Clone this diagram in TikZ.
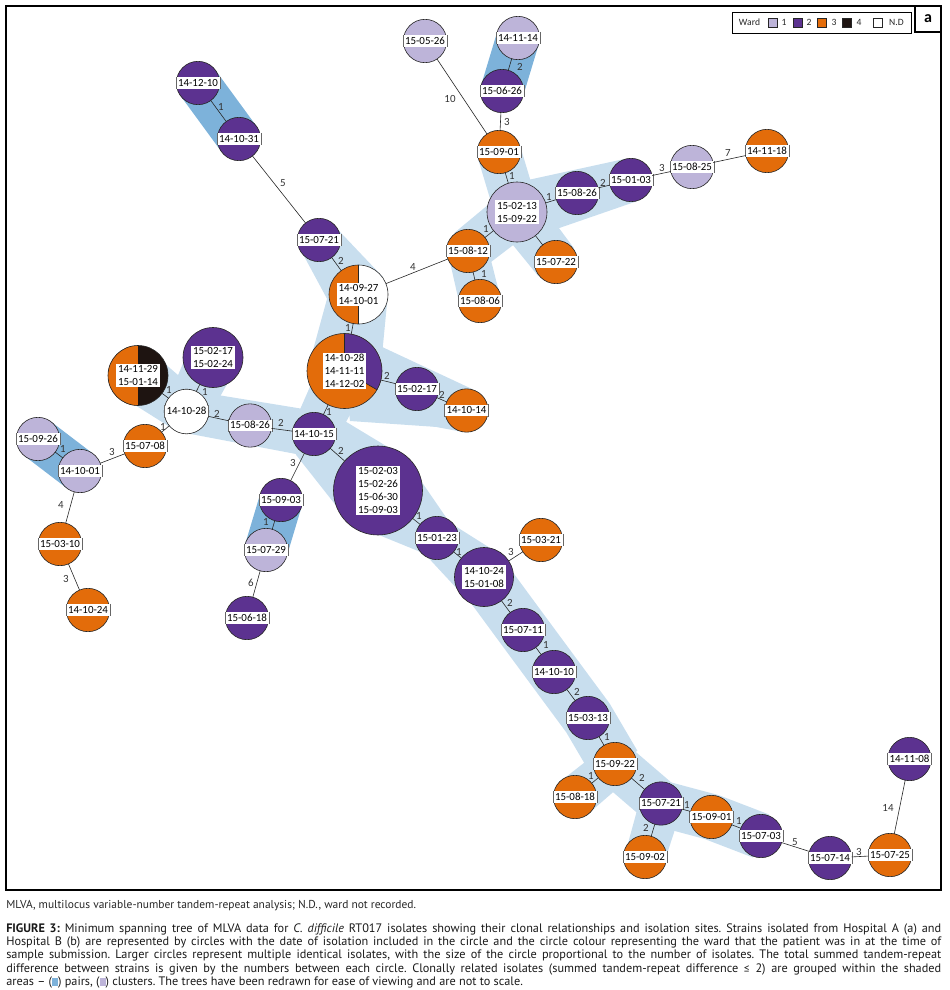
\documentclass[tikz,border=0pt]{standalone}
\usepackage{fontspec}
\setmainfont{Carlito}
\newfontfamily\capfont{PT Sans}
\newfontfamily\lefont{Carlito}
\usetikzlibrary{calc}
\definecolor{purp}{HTML}{5C3290}
\definecolor{orng}{HTML}{E36C0A}
\definecolor{lil}{HTML}{BDB4D9}
\definecolor{clusb}{HTML}{C8DEEE}
\definecolor{pairb}{HTML}{7DB2DA}
\definecolor{blk}{HTML}{1E1411}
\newcommand\tpr[4]{\fill[clus] ($(#1)!#3!90:(#2)$) -- ($(#1)!#3!-90:(#2)$) -- ($(#2)!#4!90:(#1)$) -- ($(#2)!#4!-90:(#1)$) -- cycle;}
\tikzset{
  clus/.style={fill=clusb},
  clusline/.style={draw=clusb, line cap=butt, line join=round},
  pairband/.style={draw=pairb, line width=32.5pt, line cap=butt},
  nd/.style={circle, draw=black!85, line width=0.45pt, minimum size=#1, inner sep=0pt, outer sep=0pt},
  nd/.default=32.5pt,
  sidel/.style={draw=black!60, line width=0.35pt},
  lab/.style={fill=white, inner xsep=1.3pt, inner ysep=0.7pt, text height=6pt, text depth=1.3pt,
    font=\fontsize{8.2}{9.75}\selectfont,
    append after command={(\tikzlastnode.north west) edge[sidel] (\tikzlastnode.south west)
      (\tikzlastnode.north east) edge[sidel] (\tikzlastnode.south east)}},
  labm/.style={fill=white, inner xsep=1.3pt, inner ysep=1.2pt, align=center, font=\fontsize{8.2}{9.75}\selectfont},
  edge/.style={draw=black!85, line width=0.45pt},
  elab/.style={font=\fontsize{8.2}{9}\selectfont, text=black!80, inner sep=0.5pt},
  sw/.style={draw=black!85, line width=0.4pt, minimum size=6.75pt, inner sep=0pt},
  legt/.style={font=\fontsize{7.2}{8}\selectfont, inner sep=0pt, text=black!85},
}
\begin{document}
\begin{tikzpicture}[x=0.75pt, y=-0.75pt]
\useasboundingbox (0,0) rectangle (950,990);
% coordinates
\coordinate (c01) at (198,83);
\coordinate (c02) at (239,139);
\coordinate (c03) at (425,41);
\coordinate (c04) at (518,38);
\coordinate (c05) at (502,91);
\coordinate (c06) at (499,152);
\coordinate (c07) at (517,212);
\coordinate (c08) at (577,193);
\coordinate (c09) at (631,180);
\coordinate (c10) at (692,167);
\coordinate (c11) at (767,151);
\coordinate (c12) at (468,251);
\coordinate (c13) at (556,262);
\coordinate (c14) at (480,301);
\coordinate (c15) at (319,240);
\coordinate (c16) at (358.5,294.5);
\coordinate (c17) at (344.5,371);
\coordinate (c18) at (417,389);
\coordinate (c19) at (466.5,410.5);
\coordinate (c20) at (138,375.5);
\coordinate (c21) at (213,357.5);
\coordinate (c22) at (186.5,411.5);
\coordinate (c23) at (250,425.5);
\coordinate (c24) at (314,434);
\coordinate (c25) at (145,446);
\coordinate (c26) at (38,439);
\coordinate (c27) at (80,471);
\coordinate (c28) at (60,544);
\coordinate (c29) at (88,610);
\coordinate (c30) at (281,500);
\coordinate (c31) at (266,550);
\coordinate (c32) at (247,618);
\coordinate (c33) at (378,490.5);
\coordinate (c34) at (437,538);
\coordinate (c35) at (541,540);
\coordinate (c36) at (484,577);
\coordinate (c37) at (523,630);
\coordinate (c38) at (554,672);
\coordinate (c39) at (588,718);
\coordinate (c40) at (615,764);
\coordinate (c41) at (575,797);
\coordinate (c42) at (661,803.5);
\coordinate (c43) at (645,857);
\coordinate (c44) at (711.5,817);
\coordinate (c45) at (761,836);
\coordinate (c46) at (830,858);
\coordinate (c47) at (890,855);
\coordinate (c48) at (909.5,759);
% frame
\draw[line width=1pt] (6,6) rectangle (941,890);
\draw[line width=0.8pt] (915,6) -- (915,32) -- (941,32);
\node[font=\bfseries\fontsize{12}{13}\selectfont, inner sep=0pt] (alab) at (928,18.5) {a};
% legend
\draw[line width=0.7pt] (732,12) rectangle (911,33);
\node[legt] (lw) at (749.5,22.5) {Ward};
\node[sw, fill=lil] (s1) at (772.5,23) {};
\node[legt] (t1) at (784,22.5) {1};
\node[sw, fill=purp] (s2) at (797.5,23) {};
\node[legt] (t2) at (809,22.5) {2};
\node[sw, fill=orng] (s3) at (821.5,23) {};
\node[legt] (t3) at (834,22.5) {3};
\node[sw, fill=blk] (s4) at (846.5,23) {};
\node[legt] (t4) at (859,22.5) {4};
\node[sw, fill=white] (s5) at (878,23) {};
\node[legt] (t5) at (896.5,22.5) {N.D};
% cluster shading
\tpr{c07}{c06}{16.5pt}{16.5pt}
\tpr{c07}{c09}{21.75pt}{16.5pt}
\tpr{c07}{c13}{18pt}{17pt}
\tpr{c07}{c12}{18pt}{17pt}
\tpr{c12}{c14}{15pt}{15.5pt}
\tpr{c15}{c16}{15.75pt}{22.5pt}
\tpr{c16}{c17}{22pt}{27pt}
\tpr{c17}{c19}{28.5pt}{16.5pt}
\fill[clus] (c17) -- (350,421) -- (452,428) -- (c19) -- cycle;
\tpr{c17}{c24}{19pt}{17pt}
\tpr{c24}{c22}{17.25pt}{16pt}
\tpr{c22}{c20}{16.5pt}{20pt}
\tpr{c22}{c21}{16.5pt}{19pt}
\tpr{c24}{c33}{20.6pt}{32.25pt}
\tpr{c33}{c34}{32pt}{15pt}
\tpr{c34}{c36}{15pt}{21pt}
\draw[clusline, line width=39pt] (c36) -- (c37) -- (c38) -- (c39) -- (c40);
\tpr{c40}{c41}{15pt}{16pt}
\tpr{c40}{c42}{17pt}{17pt}
\tpr{c42}{c43}{16pt}{15pt}
\draw[clusline, line width=34.5pt] (c42) -- (c44) -- (c45);
% pair shading
\draw[pairband] (c01) -- (c02);
\draw[pairband] (c04) -- (c05);
\draw[pairband] (c26) -- (c27);
\draw[pairband] (c30) -- (c31);
% circles
\node[nd, fill=purp] (n01) at (c01) {};
\node[nd, fill=purp] (n02) at (c02) {};
\node[nd, fill=lil] (n03) at (c03) {};
\node[nd, fill=lil] (n04) at (c04) {};
\node[nd, fill=purp] (n05) at (c05) {};
\node[nd, fill=orng] (n06) at (c06) {};
\node[nd=45pt, fill=lil] (n07) at (c07) {};
\node[nd, fill=purp] (n08) at (c08) {};
\node[nd, fill=purp] (n09) at (c09) {};
\node[nd, fill=lil] (n10) at (c10) {};
\node[nd, fill=orng] (n11) at (c11) {};
\node[nd, fill=orng] (n12) at (c12) {};
\node[nd, fill=orng] (n13) at (c13) {};
\node[nd, fill=orng] (n14) at (c14) {};
\node[nd, fill=purp] (n15) at (c15) {};
\node[nd=44.25pt, fill=white, path picture={
  \fill[orng] (path picture bounding box.south west) rectangle (path picture bounding box.north);
  \draw[black!85, line width=0.45pt] (path picture bounding box.south) -- (path picture bounding box.north);}] (n16) at (c16) {};
\node[nd=56.25pt, fill=orng, path picture={
  \fill[purp] (path picture bounding box.center) -- ++(90:40pt) arc[start angle=90, end angle=-30, radius=40pt] -- cycle;
  \draw[black!85, line width=0.45pt] (path picture bounding box.center) -- ++(90:40pt)
     (path picture bounding box.center) -- ++(-30:40pt);}] (n17) at (c17) {};
\node[nd, fill=purp] (n18) at (c18) {};
\node[nd, fill=orng] (n19) at (c19) {};
\node[nd=45pt, fill=blk, path picture={
  \fill[orng] (path picture bounding box.south west) rectangle (path picture bounding box.north);}] (n20) at (c20) {};
\node[nd=45pt, fill=purp] (n21) at (c21) {};
\node[nd=33.5pt, fill=white] (n22) at (c22) {};
\node[nd, fill=lil] (n23) at (c23) {};
\node[nd, fill=purp] (n24) at (c24) {};
\node[nd, fill=orng] (n25) at (c25) {};
\node[nd, fill=lil] (n26) at (c26) {};
\node[nd, fill=lil] (n27) at (c27) {};
\node[nd, fill=orng] (n28) at (c28) {};
\node[nd, fill=orng] (n29) at (c29) {};
\node[nd, fill=purp] (n30) at (c30) {};
\node[nd, fill=lil] (n31) at (c31) {};
\node[nd, fill=purp] (n32) at (c32) {};
\node[nd=66.75pt, fill=purp] (n33) at (c33) {};
\node[nd, fill=purp] (n34) at (c34) {};
\node[nd, fill=orng] (n35) at (c35) {};
\node[nd=44.25pt, fill=purp] (n36) at (c36) {};
\node[nd, fill=purp] (n37) at (c37) {};
\node[nd, fill=purp] (n38) at (c38) {};
\node[nd, fill=purp] (n39) at (c39) {};
\node[nd, fill=orng] (n40) at (c40) {};
\node[nd, fill=orng] (n41) at (c41) {};
\node[nd, fill=purp] (n42) at (c42) {};
\node[nd, fill=orng] (n43) at (c43) {};
\node[nd, fill=orng] (n44) at (c44) {};
\node[nd, fill=purp] (n45) at (c45) {};
\node[nd, fill=purp] (n46) at (c46) {};
\node[nd, fill=orng] (n47) at (c47) {};
\node[nd, fill=purp] (n48) at (c48) {};
% labels
\node[lab] (l01) at (c01) {14-12-10};
\node[lab] (l02) at (c02) {14-10-31};
\node[lab] (l03) at (c03) {15-05-26};
\node[lab] (l04) at (c04) {14-11-14};
\node[lab] (l05) at (c05) {15-06-26};
\node[lab] (l06) at (c06) {15-09-01};
\node[labm] (l07) at (c07) {15-02-13\\15-09-22};
\node[lab] (l08) at (c08) {15-08-26};
\node[lab] (l09) at (c09) {15-01-03};
\node[lab] (l10) at (c10) {15-08-25};
\node[lab] (l11) at (c11) {14-11-18};
\node[lab] (l12) at (c12) {15-08-12};
\node[lab] (l13) at (c13) {15-07-22};
\node[lab] (l14) at (c14) {15-08-06};
\node[lab] (l15) at (c15) {15-07-21};
\node[labm] (l16) at (c16) {14-09-27\\14-10-01};
\node[labm] (l17) at (c17) {14-10-28\\14-11-11\\14-12-02};
\node[lab] (l18) at (c18) {15-02-17};
\node[lab] (l19) at (c19) {14-10-14};
\node[labm] (l20) at (c20) {14-11-29\\15-01-14};
\node[labm] (l21) at (c21) {15-02-17\\15-02-24};
\node[lab] (l22) at (c22) {14-10-28};
\node[lab] (l23) at (c23) {15-08-26};
\node[lab] (l24) at (c24) {14-10-15};
\node[lab] (l25) at (c25) {15-07-08};
\node[lab] (l26) at (c26) {15-09-26};
\node[lab] (l27) at (c27) {14-10-01};
\node[lab] (l28) at (c28) {15-03-10};
\node[lab] (l29) at (c29) {14-10-24};
\node[lab] (l30) at (c30) {15-09-03};
\node[lab] (l31) at (c31) {15-07-29};
\node[lab] (l32) at (c32) {15-06-18};
\node[labm] (l33) at (c33) {15-02-03\\15-02-26\\15-06-30\\15-09-03};
\node[lab] (l34) at (c34) {15-01-23};
\node[lab] (l35) at (c35) {15-03-21};
\node[labm] (l36) at (c36) {14-10-24\\15-01-08};
\node[lab] (l37) at (c37) {15-07-11};
\node[lab] (l38) at (c38) {14-10-10};
\node[lab] (l39) at (c39) {15-03-13};
\node[lab] (l40) at (c40) {15-09-22};
\node[lab] (l41) at (c41) {15-08-18};
\node[lab] (l42) at (c42) {15-07-21};
\node[lab] (l43) at (c43) {15-09-02};
\node[lab] (l44) at (c44) {15-09-01};
\node[lab] (l45) at (c45) {15-07-03};
\node[lab] (l46) at (c46) {15-07-14};
\node[lab] (l47) at (c47) {15-07-25};
\node[lab] (l48) at (c48) {14-11-08};
% edges
\draw[edge] (n01) -- (n02);
\draw[edge] (n02) -- (n15);
\draw[edge] (n03) -- (n06);
\draw[edge] (n04) -- (n05);
\draw[edge] (n05) -- (n06);
\draw[edge] (n06) -- (n07);
\draw[edge] (n07) -- (n08);
\draw[edge] (n08) -- (n09);
\draw[edge] (n09) -- (n10);
\draw[edge] (n10) -- (n11);
\draw[edge] (n07) -- (n12);
\draw[edge] (n07) -- (n13);
\draw[edge] (n12) -- (n14);
\draw[edge] (n12) -- (n16);
\draw[edge] (n15) -- (n16);
\draw[edge] (n16) -- (n17);
\draw[edge] (n17) -- (n18);
\draw[edge] (n18) -- (n19);
\draw[edge] (n17) -- (n24);
\draw[edge] (n24) -- (n23);
\draw[edge] (n23) -- (n22);
\draw[edge] (n22) -- (n20);
\draw[edge] (n22) -- (n21);
\draw[edge] (n22) -- (n25);
\draw[edge] (n25) -- (n27);
\draw[edge] (n26) -- (n27);
\draw[edge] (n27) -- (n28);
\draw[edge] (n28) -- (n29);
\draw[edge] (n24) -- (n30);
\draw[edge] (n30) -- (n31);
\draw[edge] (n31) -- (n32);
\draw[edge] (n24) -- (n33);
\draw[edge] (n33) -- (n34);
\draw[edge] (n34) -- (n36);
\draw[edge] (n36) -- (n35);
\draw[edge] (n36) -- (n37);
\draw[edge] (n37) -- (n38);
\draw[edge] (n38) -- (n39);
\draw[edge] (n39) -- (n40);
\draw[edge] (n40) -- (n41);
\draw[edge] (n40) -- (n42);
\draw[edge] (n42) -- (n43);
\draw[edge] (n42) -- (n44);
\draw[edge] (n44) -- (n45);
\draw[edge] (n45) -- (n46);
\draw[edge] (n46) -- (n47);
\draw[edge] (n48) -- (n47);
% edge labels
\node[elab] (e01) at (221,107) {1};
\node[elab] (e02) at (283,183) {5};
\node[elab] (e03) at (450,99) {10};
\node[elab] (e04) at (520,67) {2};
\node[elab] (e05) at (507,122) {3};
\node[elab] (e06) at (512,176) {1};
\node[elab] (e07) at (549,197) {1};
\node[elab] (e08) at (603,183) {2};
\node[elab] (e09) at (662,168) {3};
\node[elab] (e10) at (728,153) {7};
\node[elab] (e11) at (486,229) {1};
\node[elab] (e13) at (484,274) {1};
\node[elab] (e14) at (413,267) {4};
\node[elab] (e15) at (341,261) {2};
\node[elab] (e16) at (348,328) {1};
\node[elab] (e17) at (387,376) {2};
\node[elab] (e18) at (442,395) {2};
\node[elab] (e19) at (329,412) {1};
\node[elab] (e20) at (281,423) {2};
\node[elab] (e21) at (217,414) {2};
\node[elab] (e22) at (169,390) {1};
\node[elab] (e23) at (205,392) {1};
\node[elab] (e24) at (163,427) {1};
\node[elab] (e25) at (112,452) {3};
\node[elab] (e26) at (63,449) {1};
\node[elab] (e27) at (61,505) {4};
\node[elab] (e28) at (66,579) {3};
\node[elab] (e29) at (293,463) {3};
\node[elab] (e30) at (266,522) {1};
\node[elab] (e31) at (251,583) {6};
\node[elab] (e32) at (341,451) {2};
\node[elab] (e33) at (419,516) {1};
\node[elab] (e34) at (459,552) {1};
\node[elab] (e35) at (511,552) {3};
\node[elab] (e36) at (510,603) {2};
\node[elab] (e37) at (546,645) {1};
\node[elab] (e38) at (577,692) {2};
\node[elab] (e39) at (607,737) {1};
\node[elab] (e40) at (591,776) {1};
\node[elab] (e41) at (642,778) {2};
\node[elab] (e42) at (646,828) {2};
\node[elab] (e43) at (687,805) {1};
\node[elab] (e44) at (739,821) {1};
\node[elab] (e45) at (795,842) {5};
\node[elab] (e46) at (859,852) {3};
\node[elab] (e47) at (888,808) {14};
% notes and caption
\node[anchor=base west, inner sep=0pt, font=\capfont\fontsize{8.6}{10}\selectfont, text=black!85] (note) at (6,908.5)
  {MLVA, multilocus variable-number tandem-repeat analysis; N.D., ward not recorded.};
\node[anchor=base west, inner sep=0pt, text width=701.25pt, align=justify,
  font=\capfont\fontsize{9.2}{9.9}\selectfont\frenchspacing, text=black!90] (cap) at (6,932.5)
  {\textbf{FIGURE 3:} Minimum spanning tree of MLVA data for \textit{C. difficile} RT017 isolates showing their clonal relationships and isolation sites. Strains isolated from Hospital A (a) and\linebreak
  Hospital B (b) are represented by circles with the date of isolation included in the circle and the circle colour representing the ward that the patient was in at the time of\linebreak
  sample submission. Larger circles represent multiple identical isolates, with the size of the circle proportional to the number of isolates. The total summed tandem-repeat\linebreak
  difference between strains is given by the numbers between each circle. Clonally related isolates (summed tandem-repeat difference {\lefont ≤} 2) are grouped within the shaded\linebreak
  areas – ({\color{pairb}\rule[-0.3pt]{4.5pt}{6pt}}) pairs, ({\color{lil}\rule[-0.3pt]{4.5pt}{6pt}}) clusters. The trees have been redrawn for ease of viewing and are not to scale.};
\end{tikzpicture}
\end{document}
